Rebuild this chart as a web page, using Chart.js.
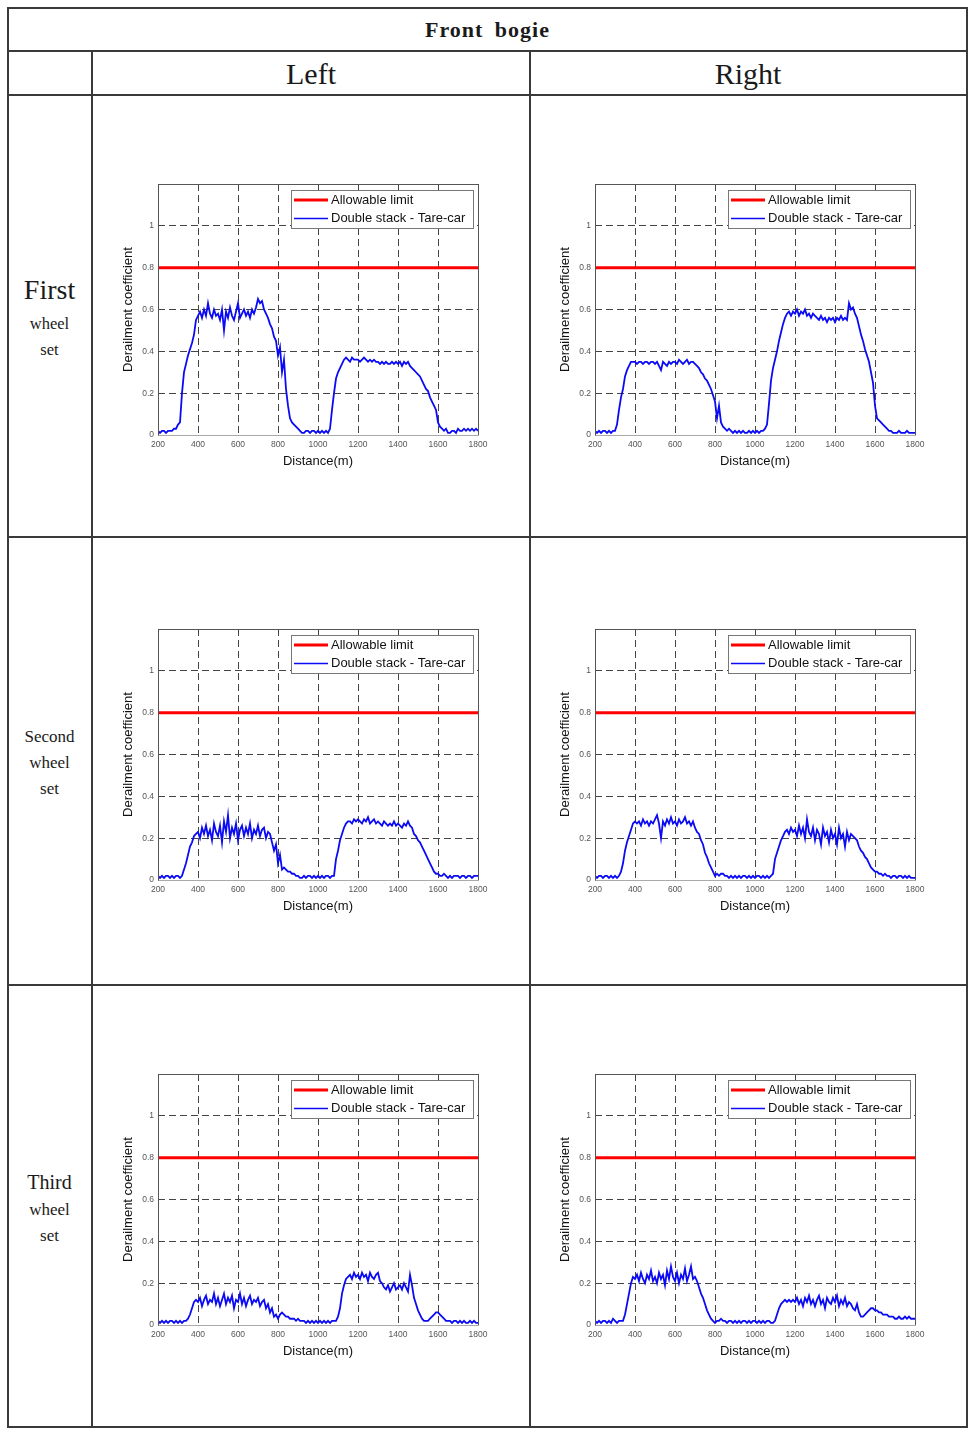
<!DOCTYPE html>
<html><head><meta charset="utf-8">
<script src="https://cdn.jsdelivr.net/npm/chart.js@4.4.1/dist/chart.umd.min.js"></script>
<style>
html,body{margin:0;padding:0;background:#fff;}
#page{position:relative;width:977px;height:1444px;overflow:hidden;background:#fff;}
.hl{position:absolute;height:2px;background:#3a3a3a;}
.vl{position:absolute;width:2px;background:#3a3a3a;}
.t{position:absolute;text-align:center;font-family:"Liberation Serif","DejaVu Serif",serif;color:#1a1a1a;white-space:nowrap;}
canvas{position:absolute;}
</style></head><body><div id="page">
<div class="hl" style="left:7px;top:7px;width:961px;"></div>
<div class="hl" style="left:7px;top:50px;width:961px;"></div>
<div class="hl" style="left:7px;top:94px;width:961px;"></div>
<div class="hl" style="left:7px;top:536px;width:961px;"></div>
<div class="hl" style="left:7px;top:984px;width:961px;"></div>
<div class="hl" style="left:7px;top:1426px;width:961px;"></div>
<div class="vl" style="left:7px;top:7px;height:1421px;"></div>
<div class="vl" style="left:966px;top:7px;height:1421px;"></div>
<div class="vl" style="left:91px;top:50px;height:1378px;"></div>
<div class="vl" style="left:529px;top:50px;height:1378px;"></div>

<div class="t" style="left:7px;width:961px;top:15px;line-height:30px;font-size:22px;font-weight:bold;letter-spacing:1px;word-spacing:5px;">Front bogie</div>
<div class="t" style="left:92px;width:438px;top:56px;line-height:36px;font-size:30px;">Left</div>
<div class="t" style="left:530px;width:436px;top:56px;line-height:36px;font-size:30px;">Right</div>

<div class="t" style="left:7px;width:85px;top:272px;line-height:36px;font-size:28px;">First</div>
<div class="t" style="left:7px;width:85px;top:313px;line-height:22px;font-size:16.5px;">wheel</div>
<div class="t" style="left:7px;width:85px;top:339px;line-height:22px;font-size:16.5px;">set</div>

<div class="t" style="left:7px;width:85px;top:726px;line-height:22px;font-size:17px;">Second</div>
<div class="t" style="left:7px;width:85px;top:752px;line-height:22px;font-size:17px;">wheel</div>
<div class="t" style="left:7px;width:85px;top:778px;line-height:22px;font-size:17px;">set</div>

<div class="t" style="left:7px;width:85px;top:1169px;line-height:26px;font-size:20px;">Third</div>
<div class="t" style="left:7px;width:85px;top:1199px;line-height:22px;font-size:17px;">wheel</div>
<div class="t" style="left:7px;width:85px;top:1225px;line-height:22px;font-size:17px;">set</div>

<canvas id="c1" width="383" height="298" style="left:113px;top:172px;"></canvas>
<canvas id="c2" width="383" height="298" style="left:550px;top:172px;"></canvas>
<canvas id="c3" width="383" height="298" style="left:113px;top:617px;"></canvas>
<canvas id="c4" width="383" height="298" style="left:550px;top:617px;"></canvas>
<canvas id="c5" width="383" height="298" style="left:113px;top:1062px;"></canvas>
<canvas id="c6" width="383" height="298" style="left:550px;top:1062px;"></canvas>
</div>
<script>
// Sample positions along the track (m)
const distance = [
200,210,220,230,240,250,260,270,280,290,
300,310,320,330,340,350,360,370,380,390,
400,410,420,430,440,450,460,470,480,490,
500,510,520,530,540,550,560,570,580,590,
600,610,620,630,640,650,660,670,680,690,
700,710,720,730,740,750,760,770,780,790,
800,810,820,830,840,850,860,870,880,890,
900,910,920,930,940,950,960,970,980,990,
1000,1010,1020,1030,1040,1050,1060,1070,1080,1090,
1100,1110,1120,1130,1140,1150,1160,1170,1180,1190,
1200,1210,1220,1230,1240,1250,1260,1270,1280,1290,
1300,1310,1320,1330,1340,1350,1360,1370,1380,1390,
1400,1410,1420,1430,1440,1450,1460,1470,1480,1490,
1500,1510,1520,1530,1540,1550,1560,1570,1580,1590,
1600,1610,1620,1630,1640,1650,1660,1670,1680,1690,
1700,1710,1720,1730,1740,1750,1760,1770,1780,1790,
1800];

// Allowable limit
const limitX = [200, 1800];
const limit = [0.8, 0.8];

const xTicks = [200, 400, 600, 800, 1000, 1200, 1400, 1600, 1800];
const yTicks = [0, 0.2, 0.4, 0.6, 0.8, 1];

// First wheel set - Left
const firstLeft = [
0.02,0.01,0.02,0.02,0.01,0.02,0.02,0.02,0.03,0.03,
0.05,0.06,0.20,0.30,0.34,0.38,0.41,0.44,0.48,0.55,
0.57,0.59,0.56,0.60,0.57,0.63,0.58,0.56,0.60,0.57,
0.58,0.55,0.60,0.50,0.59,0.56,0.61,0.57,0.55,0.59,
0.63,0.56,0.58,0.60,0.57,0.59,0.56,0.60,0.58,0.61,
0.65,0.63,0.64,0.60,0.58,0.56,0.53,0.51,0.47,0.45,
0.38,0.42,0.30,0.36,0.22,0.14,0.08,0.06,0.05,0.04,
0.03,0.02,0.01,0.01,0.02,0.02,0.01,0.02,0.02,0.01,
0.02,0.01,0.02,0.01,0.02,0.01,0.03,0.12,0.20,0.27,
0.30,0.32,0.34,0.36,0.37,0.36,0.35,0.37,0.36,0.36,
0.36,0.35,0.36,0.37,0.36,0.35,0.36,0.35,0.36,0.35,
0.35,0.34,0.35,0.34,0.35,0.34,0.34,0.35,0.34,0.35,
0.34,0.35,0.33,0.35,0.34,0.35,0.33,0.32,0.31,0.30,
0.29,0.28,0.26,0.24,0.22,0.21,0.18,0.16,0.14,0.12,
0.06,0.04,0.03,0.02,0.03,0.01,0.01,0.02,0.02,0.01,
0.03,0.02,0.02,0.03,0.02,0.03,0.02,0.03,0.02,0.03,
0.02];

// First wheel set - Right
const firstRight = [
0.02,0.01,0.02,0.01,0.02,0.02,0.01,0.02,0.01,0.02,
0.02,0.05,0.12,0.18,0.22,0.28,0.31,0.33,0.35,0.35,
0.35,0.34,0.35,0.35,0.34,0.35,0.35,0.34,0.35,0.35,
0.34,0.35,0.33,0.31,0.35,0.34,0.33,0.35,0.34,0.35,
0.35,0.34,0.36,0.35,0.34,0.35,0.36,0.34,0.35,0.35,
0.34,0.33,0.32,0.30,0.29,0.27,0.26,0.24,0.22,0.19,
0.16,0.08,0.14,0.06,0.04,0.03,0.02,0.03,0.02,0.01,
0.02,0.01,0.02,0.01,0.02,0.01,0.01,0.02,0.01,0.02,
0.01,0.02,0.01,0.02,0.02,0.03,0.05,0.15,0.26,0.32,
0.36,0.40,0.45,0.49,0.53,0.56,0.58,0.59,0.57,0.59,
0.58,0.60,0.57,0.59,0.58,0.60,0.57,0.58,0.56,0.58,
0.57,0.56,0.55,0.57,0.55,0.56,0.54,0.56,0.55,0.56,
0.54,0.56,0.55,0.57,0.55,0.56,0.55,0.63,0.60,0.61,
0.58,0.56,0.52,0.48,0.45,0.41,0.38,0.35,0.30,0.25,
0.14,0.08,0.07,0.06,0.05,0.04,0.03,0.02,0.02,0.01,
0.01,0.01,0.02,0.01,0.01,0.01,0.02,0.01,0.01,0.01,
0.01];

// Second wheel set - Left
const secondLeft = [
0.02,0.01,0.02,0.01,0.02,0.02,0.01,0.02,0.01,0.02,
0.02,0.01,0.02,0.05,0.08,0.12,0.16,0.18,0.21,0.22,
0.23,0.20,0.25,0.22,0.26,0.21,0.24,0.19,0.27,0.23,
0.21,0.26,0.18,0.28,0.23,0.31,0.20,0.25,0.22,0.27,
0.19,0.24,0.26,0.21,0.25,0.22,0.27,0.20,0.24,0.22,
0.26,0.21,0.24,0.25,0.20,0.23,0.22,0.18,0.14,0.17,
0.08,0.12,0.05,0.06,0.05,0.04,0.04,0.03,0.03,0.02,
0.02,0.01,0.01,0.02,0.01,0.02,0.02,0.01,0.02,0.01,
0.02,0.01,0.02,0.01,0.02,0.02,0.01,0.02,0.02,0.10,
0.14,0.19,0.22,0.25,0.27,0.28,0.28,0.27,0.29,0.28,
0.29,0.28,0.27,0.29,0.28,0.30,0.27,0.28,0.29,0.27,
0.28,0.27,0.26,0.28,0.27,0.26,0.27,0.26,0.28,0.26,
0.27,0.26,0.25,0.27,0.26,0.28,0.26,0.25,0.22,0.21,
0.19,0.18,0.16,0.14,0.12,0.10,0.08,0.06,0.04,0.03,
0.03,0.02,0.02,0.03,0.02,0.01,0.02,0.01,0.02,0.02,
0.02,0.01,0.02,0.02,0.01,0.02,0.02,0.01,0.02,0.02,
0.02];

// Second wheel set - Right
const secondRight = [
0.02,0.01,0.02,0.02,0.01,0.02,0.02,0.01,0.02,0.01,
0.02,0.01,0.02,0.04,0.08,0.14,0.18,0.21,0.24,0.27,
0.28,0.27,0.28,0.26,0.29,0.27,0.28,0.26,0.28,0.27,
0.29,0.31,0.27,0.20,0.28,0.26,0.29,0.27,0.30,0.27,
0.28,0.26,0.29,0.27,0.28,0.30,0.27,0.28,0.26,0.28,
0.25,0.23,0.22,0.19,0.17,0.13,0.11,0.08,0.06,0.04,
0.02,0.03,0.02,0.03,0.03,0.02,0.02,0.01,0.02,0.01,
0.02,0.01,0.02,0.01,0.02,0.02,0.01,0.02,0.01,0.02,
0.01,0.02,0.02,0.01,0.02,0.01,0.02,0.01,0.02,0.03,
0.10,0.13,0.16,0.19,0.21,0.23,0.24,0.22,0.25,0.23,
0.24,0.21,0.26,0.22,0.25,0.20,0.29,0.23,0.21,0.25,
0.19,0.24,0.22,0.17,0.25,0.21,0.23,0.18,0.24,0.20,
0.22,0.17,0.25,0.20,0.22,0.16,0.23,0.19,0.22,0.21,
0.20,0.19,0.16,0.14,0.13,0.11,0.10,0.08,0.06,0.05,
0.04,0.04,0.03,0.03,0.02,0.03,0.02,0.02,0.01,0.02,
0.02,0.01,0.02,0.02,0.01,0.02,0.01,0.02,0.01,0.01,
0.01];

// Third wheel set - Left
const thirdLeft = [
0.02,0.01,0.02,0.01,0.02,0.01,0.02,0.02,0.01,0.02,
0.01,0.02,0.01,0.02,0.02,0.03,0.05,0.08,0.11,0.12,
0.11,0.13,0.09,0.12,0.14,0.10,0.12,0.11,0.15,0.10,
0.13,0.09,0.12,0.15,0.10,0.13,0.11,0.14,0.08,0.12,
0.11,0.15,0.10,0.13,0.09,0.12,0.14,0.10,0.12,0.11,
0.13,0.09,0.11,0.12,0.08,0.10,0.06,0.08,0.04,0.05,
0.03,0.05,0.06,0.05,0.04,0.04,0.03,0.03,0.03,0.02,
0.03,0.02,0.02,0.02,0.01,0.02,0.01,0.02,0.01,0.02,
0.01,0.02,0.01,0.02,0.01,0.02,0.01,0.02,0.02,0.02,
0.04,0.08,0.15,0.19,0.22,0.23,0.24,0.22,0.25,0.23,
0.24,0.22,0.25,0.23,0.24,0.21,0.25,0.23,0.22,0.24,
0.25,0.21,0.20,0.18,0.17,0.19,0.16,0.18,0.20,0.17,
0.18,0.19,0.17,0.20,0.18,0.16,0.24,0.19,0.13,0.10,
0.07,0.05,0.03,0.02,0.02,0.02,0.03,0.04,0.05,0.06,
0.06,0.05,0.04,0.03,0.02,0.02,0.02,0.01,0.02,0.02,
0.01,0.02,0.01,0.02,0.01,0.01,0.02,0.01,0.02,0.01,
0.01];

// Third wheel set - Right
const thirdRight = [
0.02,0.01,0.02,0.01,0.02,0.02,0.01,0.02,0.01,0.03,
0.02,0.01,0.02,0.02,0.02,0.05,0.10,0.15,0.20,0.23,
0.22,0.24,0.21,0.25,0.22,0.20,0.24,0.22,0.26,0.21,
0.23,0.20,0.25,0.22,0.24,0.19,0.26,0.22,0.28,0.23,
0.21,0.25,0.20,0.24,0.22,0.27,0.21,0.24,0.28,0.22,
0.23,0.21,0.18,0.15,0.13,0.10,0.07,0.05,0.03,0.02,
0.01,0.02,0.02,0.03,0.02,0.02,0.01,0.02,0.02,0.01,
0.02,0.01,0.02,0.01,0.02,0.02,0.01,0.02,0.01,0.02,
0.02,0.01,0.02,0.01,0.02,0.01,0.02,0.02,0.01,0.01,
0.02,0.05,0.08,0.10,0.11,0.12,0.11,0.12,0.11,0.12,
0.11,0.13,0.10,0.12,0.09,0.13,0.11,0.14,0.10,0.12,
0.09,0.12,0.14,0.10,0.12,0.08,0.13,0.11,0.10,0.13,
0.11,0.14,0.09,0.12,0.10,0.13,0.09,0.11,0.10,0.08,
0.07,0.10,0.06,0.04,0.04,0.05,0.06,0.07,0.08,0.08,
0.07,0.07,0.06,0.06,0.05,0.05,0.05,0.04,0.04,0.04,
0.03,0.03,0.04,0.03,0.03,0.04,0.03,0.04,0.03,0.03,
0.03];

const seriesLabel = 'Double stack - Tare-car';
const limitLabel = 'Allowable limit';
const xTitle = 'Distance(m)';
const yTitle = 'Derailment coefficient';

const framePlugin = {
  id: 'frame',
  afterDatasetsDraw(chart) {
    const {ctx, chartArea: a} = chart;
    ctx.save();
    ctx.strokeStyle = '#555';
    ctx.lineWidth = 1;
    ctx.beginPath();
    ctx.moveTo(a.left + 0.5, a.bottom + 0.5);
    ctx.lineTo(a.left + 0.5, a.top + 0.5);
    ctx.lineTo(a.right + 0.5, a.top + 0.5);
    ctx.lineTo(a.right + 0.5, a.bottom + 0.5);
    ctx.stroke();
    ctx.strokeStyle = '#aaa';
    ctx.beginPath();
    ctx.moveTo(a.left + 0.5, a.bottom + 0.5);
    ctx.lineTo(a.right + 0.5, a.bottom + 0.5);
    ctx.stroke();
    ctx.restore();
  }
};

const legendPlugin = {
  id: 'boxLegend',
  afterDraw(chart) {
    const {ctx, chartArea: a} = chart;
    const w = 182, h = 38;
    const x0 = Math.round(a.right - 5 - w), y0 = Math.round(a.top + 6);
    ctx.save();
    ctx.fillStyle = '#fff';
    ctx.fillRect(x0, y0, w, h);
    ctx.strokeStyle = '#777';
    ctx.lineWidth = 1;
    ctx.strokeRect(x0 + 0.5, y0 + 0.5, w, h);
    chart.data.datasets.forEach((ds, i) => {
      const cy = y0 + 10 + i * 18.5;
      ctx.strokeStyle = ds.borderColor;
      ctx.lineWidth = i === 0 ? 3 : 1.6;
      ctx.beginPath();
      ctx.moveTo(x0 + 3, cy);
      ctx.lineTo(x0 + 37, cy);
      ctx.stroke();
      ctx.fillStyle = '#111';
      ctx.font = '13px "Liberation Sans", Arial, sans-serif';
      ctx.textBaseline = 'middle';
      ctx.textAlign = 'left';
      ctx.fillText(ds.label, x0 + 40, cy);
    });
    ctx.restore();
  }
};

function makeChart(id, values) {
  const el = document.getElementById(id);
  return new Chart(el, {
    type: 'line',
    data: {
      datasets: [
        {label: limitLabel, data: limitX.map((x, i) => ({x: x, y: limit[i]})),
         borderColor: '#ff0000', borderWidth: 3, pointRadius: 0, tension: 0},
        {label: seriesLabel, data: distance.map((x, i) => ({x: x, y: values[i]})),
         borderColor: '#0a0af5', borderWidth: 1.8, pointRadius: 0, tension: 0}
      ]
    },
    options: {
      responsive: false, animation: false, devicePixelRatio: 1,
      layout: {padding: {left: 0, top: 12, right: 18, bottom: 0}},
      plugins: {legend: {display: false}, tooltip: {enabled: false}},
      scales: {
        x: {
          type: 'linear', min: xTicks[0], max: xTicks[xTicks.length - 1],
          afterBuildTicks(s) { s.ticks = xTicks.map(v => ({value: v})); },
          ticks: {padding: 5, color: '#555', maxRotation: 0, autoSkip: false,
                  font: {size: 8.5, family: '"Liberation Sans", Arial, sans-serif'},
                  callback: v => String(v)},
          grid: {color: '#444', lineWidth: 1, drawTicks: false},
          border: {display: false, dash: [7, 4]},
          title: {display: true, text: xTitle, color: '#111',
                  font: {size: 13, family: '"Liberation Sans", Arial, sans-serif'},
                  padding: {top: 0, bottom: 1}},
          afterFit(s) { s.height = 35; }
        },
        y: {
          type: 'linear', min: 0, max: 1.2,
          afterBuildTicks(s) { s.ticks = yTicks.concat([1.2]).map(v => ({value: v})); },
          ticks: {padding: 4, color: '#555',
                  font: {size: 8.5, family: '"Liberation Sans", Arial, sans-serif'},
                  callback: v => (v > 1.1 ? '' : String(Math.round(v * 10) / 10))},
          grid: {color: '#444', lineWidth: 1, drawTicks: false},
          border: {display: false, dash: [7, 4]},
          title: {display: true, text: yTitle, color: '#111',
                  font: {size: 13, family: '"Liberation Sans", Arial, sans-serif'},
                  padding: {top: 8, bottom: 0}},
          afterFit(s) { s.width = 45; }
        }
      }
    },
    plugins: [framePlugin, legendPlugin]
  });
}

makeChart('c1', firstLeft);
makeChart('c2', firstRight);
makeChart('c3', secondLeft);
makeChart('c4', secondRight);
makeChart('c5', thirdLeft);
makeChart('c6', thirdRight);
</script>
</body></html>
